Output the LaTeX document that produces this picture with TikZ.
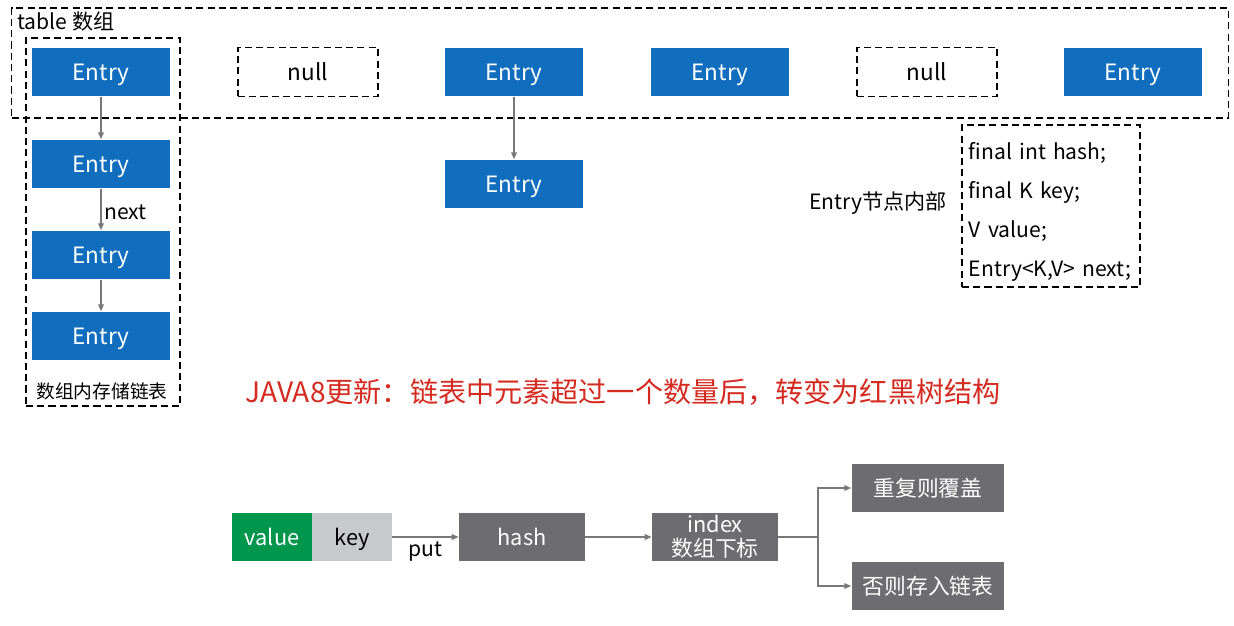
\documentclass[tikz,border=0pt]{standalone}
\usepackage{fontspec}
\setmainfont{Noto Sans CJK SC}
\usepackage{tikz}
\usetikzlibrary{positioning,arrows.meta}
\definecolor{bleu}{RGB}{17,110,190}
\definecolor{vert}{RGB}{0,150,76}
\definecolor{grisf}{RGB}{108,108,113}
\definecolor{grisc}{RGB}{200,201,205}
\definecolor{fleche}{RGB}{120,120,120}
\definecolor{rouge}{RGB}{212,42,32}
\newcommand{\fs}[1]{\fontsize{#1}{1.2\dimexpr#1pt\relax}\selectfont}

\begin{document}
\begin{tikzpicture}[x=0.025cm, y=-0.025cm,
  ent/.style={rectangle, fill=bleu, text=white, minimum width=3.45cm, minimum height=1.22cm,
              inner sep=0pt, text depth=0pt, font=\fs{16}},
  vide/.style={rectangle, draw, dash pattern=on 5pt off 3pt, line width=0.9pt,
               minimum width=3.5cm, minimum height=1.22cm, inner sep=0pt, font=\fs{16}},
  cadre/.style={rectangle, draw, dash pattern=on 5pt off 3pt, line width=0.9pt, inner sep=0pt},
  gb/.style={rectangle, fill=grisf, text=white, minimum height=1.22cm, inner sep=0pt, align=center},
  fl/.style={-{Triangle[length=5pt, width=4pt]}, line width=1.1pt, draw=fleche}]

\useasboundingbox (0,0) rectangle (1234,625);

% ── le tableau ──
\node[cadre, minimum width=30.4cm, minimum height=2.75cm] (tab) at (620,63) {};
\node[font=\fs{15}, anchor=west, inner sep=0pt] (titre) at (17,22) {table 数组};
\node[cadre, minimum width=3.85cm, minimum height=9.2cm] (col) at (103,222) {};

\node[ent] (e0) at (101,72) {Entry};
\node[vide] (n1) at (308,72) {null};
\node[ent] (e2) at (514,72) {Entry};
\node[ent] (e3) at (720,72) {Entry};
\node[vide] (n4) at (927,72) {null};
\node[ent] (e5) at (1133,72) {Entry};

% ── les listes chaînées ──
\node[ent] (c1) at (101,164) {Entry};
\node[ent] (c2) at (101,255) {Entry};
\node[ent] (c3) at (101,336) {Entry};
\node[ent] (d1) at (514,184) {Entry};
\node[font=\fs{13.3}] (leg) at (102,391) {数组内存储链表};

\draw[fl] (e0) -- (c1);
\draw[fl] (c1) -- node[right, font=\fs{15}, inner sep=2pt, yshift=-2pt] (nx) {next} (c2);
\draw[fl] (c2) -- (c3);
\draw[fl] (e2) -- (d1);

% ── intérieur d'un Entry ──
\node[font=\fs{15}] (int) at (878,203) {Entry节点内部};
\node[cadre, minimum width=4.45cm, minimum height=4.05cm] (champs) at (1051,206) {};
\node[text width=4.3cm, inner sep=0pt, align=left, font=\fontsize{15}{27.6}\selectfont] (chtxt)
  at (1055,212) {final int hash;\\ final K key;\\ V value;\\ Entry<K,V> next;};

% ── JAVA8 ──
\node[font=\fs{20}, text=rouge] (j8) at (623,392) {JAVA8更新：链表中元素超过一个数量后，转变为红黑树结构};

% ── put ──
\node[rectangle, fill=vert, text=white, minimum width=2cm, minimum height=1.22cm, inner sep=0pt,
      text depth=0pt, font=\fs{15.5}] (val) at (272,537) {value};
\node[rectangle, fill=grisc, minimum width=2cm, minimum height=1.22cm, inner sep=0pt,
      text depth=0pt, font=\fs{15.5}] (key) at (352,537) {key};
\node[gb, minimum width=3.15cm, text depth=0pt, font=\fs{15.5}] (hash) at (522,537) {hash};
\node[gb, minimum width=3.15cm, font=\fontsize{15.5}{17}\selectfont] (idx) at (715,537) {index\\数组下标};
\node[gb, minimum width=3.82cm, font=\fs{15.5}] (dup) at (928,488) {重复则覆盖};
\node[gb, minimum width=3.82cm, font=\fs{15.5}] (lst) at (928,586) {否则存入链表};

\draw[fl] (key) -- node[below, font=\fs{15}, inner sep=3pt] (put) {put} (hash);
\draw[fl] (hash) -- (idx);
\coordinate (fork) at (818,537);
\draw[line width=1.1pt, draw=fleche] (idx) -- (fork);
\draw[fl] (fork) |- (dup);
\draw[fl] (fork) |- (lst);

\end{tikzpicture}
\end{document}
